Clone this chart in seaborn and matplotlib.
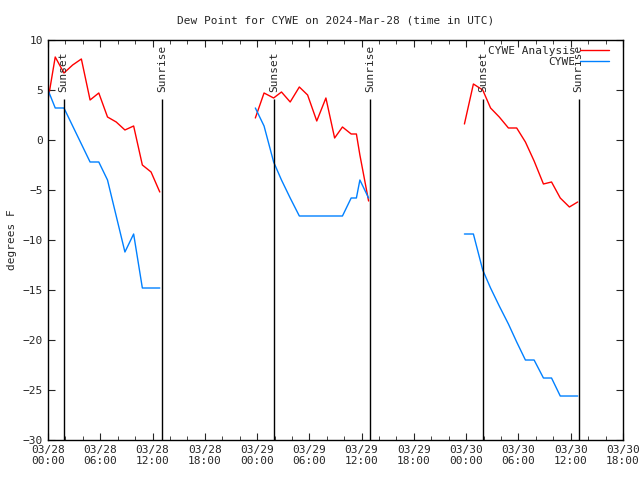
import pandas as pd
import matplotlib
matplotlib.use('Agg')
import matplotlib.pyplot as plt
from matplotlib.ticker import MultipleLocator
import seaborn as sns

# hours since 2024-03-28 00:00 UTC
hours_1 = [0.0, 0.83, 1.83, 2.83, 3.83, 4.83, 5.83, 6.83, 7.83, 8.83, 9.83, 10.83, 11.83, 12.83]
analysis_1 = [4.0, 8.3, 6.7, 7.5, 8.1, 4.0, 4.7, 2.3, 1.8, 1.0, 1.4, -2.5, -3.2, -5.2]
cywe_1 = [5.0, 3.2, 3.2, 1.4, -0.4, -2.2, -2.2, -4.0, -7.6, -11.2, -9.4, -14.8, -14.8, -14.8]

hours_2 = [23.8, 24.8, 25.9, 26.8, 27.8, 28.85, 29.8, 30.85, 31.9, 32.9, 33.8, 34.8, 35.4, 35.8, 36.8]
analysis_2 = [2.2, 4.7, 4.2, 4.8, 3.8, 5.3, 4.5, 1.9, 4.2, 0.2, 1.3, 0.6, 0.6, -1.5, -6.1]
cywe_2 = [3.2, 1.4, -2.2, -4.0, -5.8, -7.6, -7.6, -7.6, -7.6, -7.6, -7.6, -5.8, -5.8, -4.0, -5.8]

hours_3 = [47.8, 48.83, 49.9, 50.8, 51.8, 52.85, 53.8, 54.8, 55.8, 56.87, 57.8, 58.8, 59.85, 60.8]
analysis_3 = [1.6, 5.6, 5.0, 3.2, 2.3, 1.2, 1.2, -0.2, -2.1, -4.4, -4.2, -5.8, -6.7, -6.2]
cywe_3 = [-9.4, -9.4, -13.0, -14.8, -16.6, -18.4, -20.2, -22.0, -22.0, -23.8, -23.8, -25.6, -25.6, -25.6]

sun_hours = [1.78, 13.1, 25.95, 37.0, 49.94, 60.9]
sun_labels = ['Sunset', 'Sunrise', 'Sunset', 'Sunrise', 'Sunset', 'Sunrise']

tick_hours = [0, 6, 12, 18, 24, 30, 36, 42, 48, 54, 60, 66]
tick_labels = ['03/28\n00:00', '03/28\n06:00', '03/28\n12:00', '03/28\n18:00',
               '03/29\n00:00', '03/29\n06:00', '03/29\n12:00', '03/29\n18:00',
               '03/30\n00:00', '03/30\n06:00', '03/30\n12:00', '03/30\n18:00']

rows = []
for seg, (h, a, c) in enumerate([(hours_1, analysis_1, cywe_1),
                                 (hours_2, analysis_2, cywe_2),
                                 (hours_3, analysis_3, cywe_3)]):
    for hh, va in zip(h, a):
        rows.append({'hour': hh, 'value': va, 'series': 'CYWE Analysis', 'seg': seg})
    for hh, vc in zip(h, c):
        rows.append({'hour': hh, 'value': vc, 'series': 'CYWE', 'seg': seg})
df = pd.DataFrame(rows)

sns.set_style('ticks')
plt.rcParams['font.family'] = ['DejaVu Sans Mono', 'DejaVu Sans']
plt.rcParams['xtick.direction'] = 'in'
plt.rcParams['ytick.direction'] = 'in'

fig = plt.figure(figsize=(6.4, 4.8), dpi=100)
ax = fig.add_axes([0.075, 0.0833, 0.8984, 0.8334])

sns.lineplot(data=df, x='hour', y='value', hue='series', units='seg', estimator=None,
             hue_order=['CYWE Analysis', 'CYWE'],
             palette={'CYWE Analysis': '#ff0000', 'CYWE': '#0080ff'},
             linewidth=1, ax=ax)

# sunrise / sunset markers
ax.vlines(sun_hours, -30, 4.1, color='black', linewidth=1.0)
for sx, lab in zip(sun_hours, sun_labels):
    ax.text(sx, 4.8, lab, rotation=90, ha='center', va='bottom', fontsize=8)

ax.set_xlim(0, 66)
ax.set_ylim(-30, 10)
ax.set_xticks(tick_hours)
ax.set_xticklabels(tick_labels, fontsize=8)
ax.xaxis.set_minor_locator(MultipleLocator(2))
ax.yaxis.set_major_locator(MultipleLocator(5))
ax.tick_params(axis='y', labelsize=8)
ax.tick_params(which='both', top=True, right=True, length=5)
ax.tick_params(which='minor', length=3)
for sp in ax.spines.values():
    sp.set_linewidth(1)
    sp.set_color('black')

ax.set_xlabel('')
ax.set_ylabel('degrees F', fontsize=8)
ax.set_title('Dew Point for CYWE on 2024-Mar-28 (time in UTC)', fontsize=8, pad=12)

ax.legend(loc='upper right', bbox_to_anchor=(0.985, 1.0), frameon=False,
          markerfirst=False, fontsize=8, handlelength=2.6,
          borderaxespad=0.1, labelspacing=0.1, handletextpad=0.4)

fig.savefig('out.png', dpi=100)
